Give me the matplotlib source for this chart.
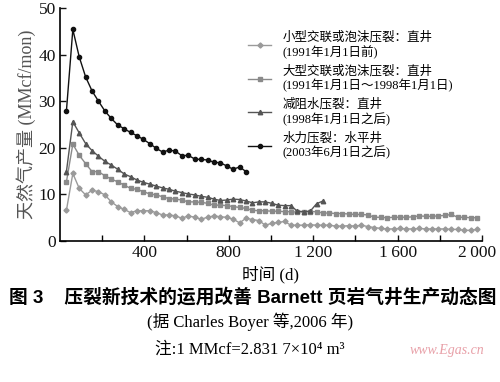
import numpy as np
import matplotlib
matplotlib.use('Agg')
import matplotlib.pyplot as plt
from matplotlib.transforms import ScaledTranslation

plt.rcParams['font.family'] = ['Liberation Serif', 'Noto Sans CJK SC', 'DejaVu Serif']

# ── DATA ────────────────────────────────────────────────────
# production month index -> days = month * 30.4
days_per_month = 30.4

# 小型交联或泡沫压裂：直井 (1991年1月1日前)
s1 = [6.6, 14.5, 11.3, 9.9, 10.9, 10.6, 9.9, 8.4, 7.4, 6.8,
      6.1, 6.5, 6.5, 6.5, 6.1, 5.6, 5.6, 5.4, 4.9, 5.4,
      5.1, 4.7, 5.1, 5.4, 5.2, 5.1, 4.7, 3.9, 4.9, 4.6,
      4.4, 3.4, 3.8, 4.0, 4.2, 3.4, 3.4, 3.4, 3.5, 3.4,
      3.4, 3.4, 3.2, 3.2, 3.3, 3.2, 3.4, 3.1, 2.9, 2.7,
      2.6, 2.6, 2.7, 2.6, 2.6, 2.7, 2.6, 2.6, 2.6, 2.6,
      2.5, 2.5, 2.3, 2.3, 2.5]
# 大型交联或泡沫压裂：直井 (1991年1月1日～1998年1月1日)
s2 = [12.7, 20.8, 18.4, 16.6, 14.9, 14.9, 14.0, 13.3, 12.7, 12.0,
      11.3, 11.1, 10.6, 10.1, 9.9, 9.5, 9.1, 9.0, 8.8, 8.4,
      8.4, 8.3, 8.1, 7.7, 7.7, 7.6, 7.4, 7.2, 7.0, 6.6,
      6.5, 6.5, 6.4, 6.4, 6.3, 6.3, 6.2, 6.3, 6.3, 6.3,
      6.0, 6.0, 5.9, 5.9, 5.8, 5.7, 5.7, 5.6, 5.1, 5.1,
      5.0, 5.1, 5.1, 5.1, 5.2, 5.4, 5.3, 5.3, 5.4, 5.5,
      5.7, 5.1, 5.1, 5.0, 5.0]
# 减阻水压裂：直井 (1998年1月1日之后)
s3 = [14.9, 25.6, 23.2, 20.9, 19.4, 18.2, 17.1, 16.3, 15.4, 14.4,
      13.8, 13.1, 12.6, 12.2, 11.8, 11.4, 11.1, 10.7, 10.4, 10.1,
      9.9, 9.6, 9.4, 9.0, 8.7, 8.8, 9.0, 8.9, 8.6, 8.2,
      8.4, 8.4, 8.1, 7.7, 7.6, 7.6, 6.4, 6.3, 6.4, 8.0,
      8.6]
# 水力压裂：水平井 (2003年6月1日之后)
s4 = [27.9, 45.4, 39.5, 35.2, 32.2, 30.0, 27.9, 26.3, 24.9, 24.1,
      23.3, 22.6, 21.8, 20.9, 19.9, 19.1, 19.5, 19.3, 18.3, 18.4,
      17.6, 17.5, 17.4, 16.9, 16.8, 16.1, 15.4, 15.9, 14.9]

labels = ['小型交联或泡沫压裂：直井\n(1991年1月1日前)',
          '大型交联或泡沫压裂：直井\n(1991年1月1日～1998年1月1日)',
          '减阻水压裂：直井\n(1998年1月1日之后)',
          '水力压裂：水平井\n(2003年6月1日之后)']

series = [s1, s2, s3, s4]
colors = ['#9a9a9a', '#8a8a8a', '#555555', '#111111']
markers = ['D', 's', '^', 'o']
msizes = [2.6, 2.8, 3.2, 3.0]

xticks = [400, 800, 1200, 1600, 2000]
xticklabels = ['400', '800', '1\u2009200', '1\u2009600', '2\u2009000']

# ── PLOT ────────────────────────────────────────────────────
fig = plt.figure(figsize=(5.0, 3.82), dpi=100)
ax = fig.add_axes([0.12, 0.369, 0.844, 0.610])

handles = []
for s, c, m, ms, lab in zip(series, colors, markers, msizes, labels):
    d = (np.arange(len(s)) + 1) * days_per_month
    h, = ax.plot(d, s, color=c, lw=1.0, marker=m, ms=ms, mec=c, mfc=c)
    handles.append(h)

ax.set_xlim(0, 2000)
ax.set_ylim(0, 50)
ax.spines['top'].set_visible(False)
ax.spines['right'].set_visible(False)
for sp in ['left', 'bottom']:
    ax.spines[sp].set_linewidth(1.2)

ax.set_xticks(np.arange(200, 2001, 200), minor=True)
ax.set_xticks(xticks)
ax.set_xticklabels(xticklabels)
ax.set_yticks(np.arange(0, 51, 10))
ax.tick_params(axis='both', direction='in', length=4, width=1.0,
               labelsize=12.5, pad=3, colors='#111111')
ax.tick_params(axis='x', which='minor', direction='in', length=4, width=1.0)
# last x label sits just left of centre so it stays inside the picture
last = ax.get_xticklabels()[-1]
last.set_horizontalalignment('right')
last.set_transform(last.get_transform() +
                   ScaledTranslation(0.14, 0, fig.dpi_scale_trans))

ax.set_xlabel('时间 (d)', fontsize=12, labelpad=3)
ax.set_ylabel('天然气产量 (MMcf/mon)', fontsize=13, color='#555555', labelpad=2)

ax.legend(handles, labels, loc='upper left', bbox_to_anchor=(0.42, 0.95),
          frameon=False, fontsize=9, handlelength=1.8, labelspacing=0.45,
          handletextpad=0.9)

fig.text(0.505, 0.222, '图 3    压裂新技术的运用改善 Barnett 页岩气井生产动态图',
         ha='center', va='center', fontsize=13.5, fontweight='bold',
         family=['Liberation Sans', 'Noto Sans CJK SC'])
fig.text(0.5, 0.157, '(据 Charles Boyer 等,2006 年)',
         ha='center', va='center', fontsize=12)
fig.text(0.5, 0.085, '注:1 MMcf=2.831 7×10⁴ m³',
         ha='center', va='center', fontsize=12)
fig.text(0.82, 0.082, 'www.Egas.cn', ha='left', va='center', fontsize=10,
         color='#e8a0a8', style='italic')

fig.savefig('out.png', dpi=100)
